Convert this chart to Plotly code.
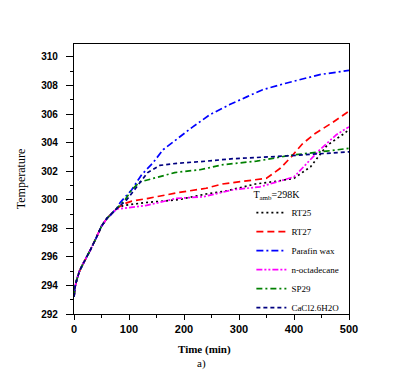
import plotly.graph_objects as go

# common heating start (min, K)
t_common = [0, 2, 5, 10, 15, 20, 30, 40, 50, 60, 70, 77]
T_common = [293.2, 293.9, 294.4, 295.0, 295.4, 295.75, 296.5, 297.3, 298.15, 298.7, 299.1, 299.35]

t_rt25 = [90, 130, 190, 240, 275, 330, 370, 400, 430, 460, 490, 500]
T_rt25 = [299.6, 299.8, 300.0, 300.4, 300.6, 301.1, 301.3, 301.5, 302.3, 303.8, 304.6, 304.9]

t_rt27 = [90, 105, 135, 190, 240, 270, 350, 375, 395, 415, 437, 470, 500]
T_rt27 = [299.7, 299.9, 300.1, 300.5, 300.8, 301.1, 301.5, 302.2, 303.0, 303.9, 304.6, 305.4, 306.2]

t_paraffin = [84, 105, 123, 144, 162, 192, 216, 247, 283, 314, 343, 380, 410, 447, 500]
T_paraffin = [299.8, 300.7, 301.75, 302.6, 303.5, 304.4, 305.1, 305.95, 306.66, 307.2, 307.7, 308.1, 308.4, 308.76, 309.05]

t_octa = [90, 132, 187, 234, 290, 338, 374, 400, 410, 447, 477, 500]
T_octa = [299.4, 299.6, 300.1, 300.2, 300.7, 300.9, 301.3, 301.6, 302.0, 303.5, 304.55, 305.1]

t_sp29 = [93, 105, 120, 150, 183, 229, 271, 332, 392, 459, 500]
T_sp29 = [300.0, 300.7, 301.25, 301.55, 301.9, 302.1, 302.45, 302.7, 303.1, 303.4, 303.6]

t_cacl2 = [96, 120, 134, 156, 187, 241, 289, 380, 434, 500]
T_cacl2 = [300.0, 301.2, 301.9, 302.4, 302.55, 302.7, 302.87, 303.05, 303.2, 303.35]

names = ["RT25", "RT27", "Parafin wax", "n-octadecane", "SP29", "CaCl2.6H2O"]
colors = ["#000000", "#ff0000", "#0000ff", "#ff00ff", "#008000", "#000080"]
dashes = ["2px,3px", "7px,4px", "7px,3px,2px,3px", "6px,2px,2px,2px,2px,2px", "6px,3px,2px,3px", "4px,3px"]
series = [(t_rt25, T_rt25), (t_rt27, T_rt27), (t_paraffin, T_paraffin),
          (t_octa, T_octa), (t_sp29, T_sp29), (t_cacl2, T_cacl2)]

x_ticks = [0, 100, 200, 300, 400, 500]
y_ticks = [292, 294, 296, 298, 300, 302, 304, 306, 308, 310]

fig = go.Figure()
for name, col, dsh, (tt, TT) in zip(names, colors, dashes, series):
    fig.add_trace(go.Scatter(
        x=t_common + tt, y=T_common + TT, mode="lines", name=name,
        line=dict(color=col, dash=dsh, width=1.7)))

fig.update_layout(
    width=401, height=371,
    margin=dict(l=66, r=60, t=36, b=65),
    paper_bgcolor="white", plot_bgcolor="white",
    font=dict(family="Liberation Serif", color="black"),
    legend=dict(
        title=dict(text="T<sub>amb</sub>=298K", font=dict(family="Liberation Serif", size=10)),
        font=dict(family="Liberation Serif", size=9),
        x=0.645, y=-0.03, xanchor="left", yanchor="bottom",
        bgcolor="rgba(0,0,0,0)", itemwidth=30, tracegroupgap=0),
    xaxis=dict(
        range=[0, 500], tickvals=x_ticks, ticktext=[str(v) for v in x_ticks],
        showline=True, linecolor="black", linewidth=1.3, mirror=True,
        ticks="outside", ticklen=5, tickwidth=1, tickcolor="black",
        minor=dict(dtick=50, ticks="outside", ticklen=3, tickcolor="black"),
        showgrid=False, zeroline=False,
        tickfont=dict(family="Liberation Sans", size=11, weight="bold")),
    yaxis=dict(
        range=[292, 310.9], tickvals=y_ticks, ticktext=[str(v) for v in y_ticks],
        showline=True, linecolor="black", linewidth=1.3, mirror=True,
        ticks="outside", ticklen=7, tickwidth=1, tickcolor="black",
        minor=dict(dtick=1, ticks="outside", ticklen=3, tickcolor="black"),
        showgrid=False, zeroline=False, ticklabelstandoff=6,
        title=dict(text="Temperature", font=dict(family="Liberation Serif", size=12), standoff=12),
        tickfont=dict(family="Liberation Sans Narrow, Liberation Sans", size=10, weight="bold")),
    annotations=[
        dict(text="Time (min)", xref="paper", yref="paper", x=0.475, y=-0.13,
             showarrow=False, font=dict(family="Liberation Serif", size=11, weight="bold"),
             yanchor="middle"),
        dict(text="a)", xref="paper", yref="paper", x=0.465, y=-0.183,
             showarrow=False, font=dict(family="Liberation Serif", size=11), yanchor="middle"),
    ],
)

fig.write_html("out.html")
